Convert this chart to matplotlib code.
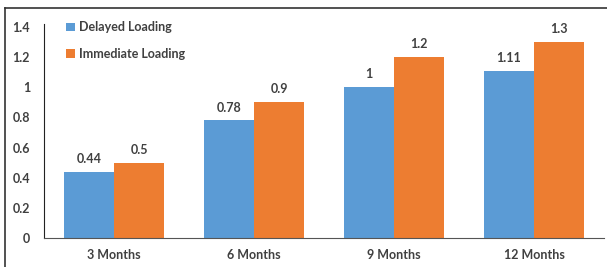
import numpy as np
import matplotlib.pyplot as plt
from matplotlib.lines import Line2D

plt.rcParams['font.family'] = ['Lato', 'DejaVu Sans']
plt.rcParams['font.weight'] = 'bold'

categories = ['3 Months', '6 Months', '9 Months', '12 Months']
delayed = [0.44, 0.78, 1.0, 1.11]
immediate = [0.5, 0.9, 1.2, 1.3]
delayed_lbl = ['0.44', '0.78', '1', '1.11']
immediate_lbl = ['0.5', '0.9', '1.2', '1.3']

txt = '#404040'
blue = '#5B9BD5'
orange = '#ED7D31'

fig = plt.figure(figsize=(6.07, 2.67), dpi=100)
ax = fig.add_axes([0.0725, 0.1086, 0.9225, 0.79])

x = np.arange(len(categories))
w = 0.36
b1 = ax.bar(x - w/2, delayed, w, color=blue, label='Delayed Loading')
b2 = ax.bar(x + w/2, immediate, w, color=orange, label='Immediate Loading')

for bars, lbls in ((b1, delayed_lbl), (b2, immediate_lbl)):
    for r, s in zip(bars, lbls):
        ax.annotate(s, (r.get_x() + r.get_width()/2, r.get_height()),
                    xytext=(0, 5), textcoords='offset points',
                    ha='center', va='bottom', fontsize=9, color=txt, fontweight='bold')

ax.set_xlim(-0.5, 3.5)
ax.set_ylim(0, 1.4)
ax.set_yticks(np.arange(0, 1.41, 0.2))
ax.set_yticklabels(['0', '0.2', '0.4', '0.6', '0.8', '1', '1.2', '1.4'])
ax.set_xticks(x)
ax.set_xticklabels(categories)
ax.tick_params(length=0, labelsize=9, labelcolor=txt)
ax.tick_params(axis='y', pad=10)
ax.tick_params(axis='x', pad=8)
for s in ('top', 'right'):
    ax.spines[s].set_visible(False)
ax.spines['left'].set_color('#222222')
ax.spines['bottom'].set_color('#555555')
ax.spines['left'].set_bounds(0, 1.42)

leg = ax.legend(loc='upper left', bbox_to_anchor=(0.02, 1.08), frameon=False,
                fontsize=9, handlelength=0.7, handleheight=0.7, handletextpad=0.3,
                labelspacing=1.15, labelcolor=txt)

fig.add_artist(Line2D([5/607, 1], [1 - 8/267, 1 - 8/267], color='#333333', lw=1.2))
fig.add_artist(Line2D([5/607, 5/607], [0, 1 - 8/267], color='#333333', lw=1.2))

fig.savefig('out.png', dpi=100)
